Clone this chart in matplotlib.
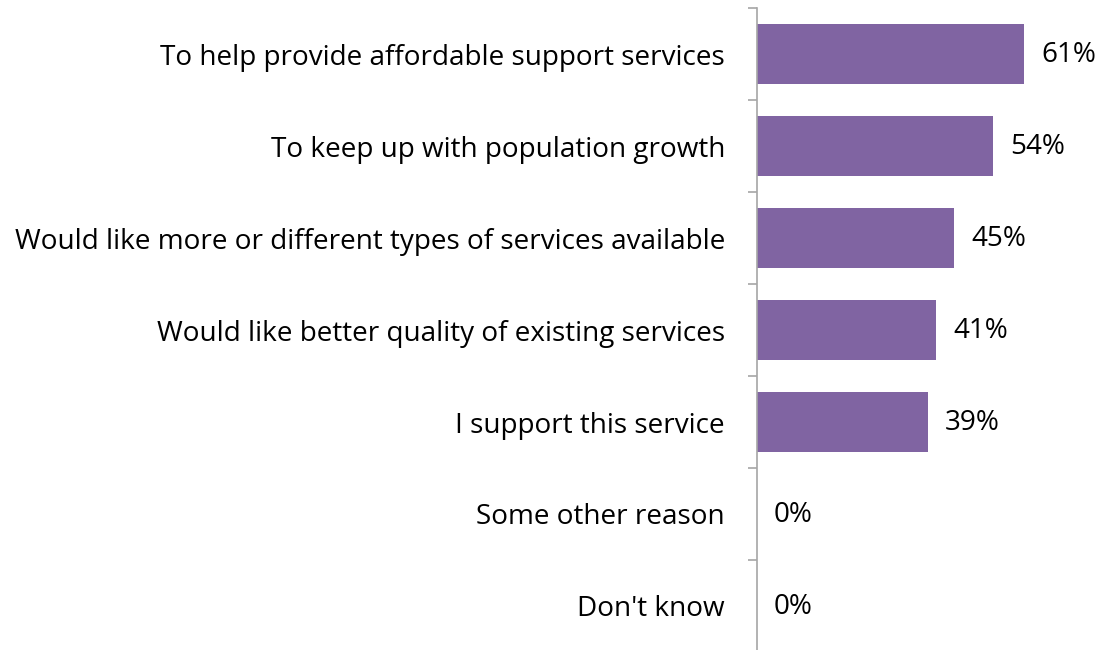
import matplotlib.pyplot as plt
from matplotlib.ticker import FixedLocator

# categories top to bottom and their shares (%)
categories = [
    "To help provide affordable support services",
    "To keep up with population growth",
    "Would like more or different types of services available",
    "Would like better quality of existing services",
    "I support this service",
    "Some other reason",
    "Don't know",
]
values = [61, 54, 45, 41, 39, 0, 0]
value_labels = ["61%", "54%", "45%", "41%", "39%", "0%", "0%"]

plt.rcParams['font.family'] = ['Open Sans', 'DejaVu Sans']

W, H = 1101, 650
fig = plt.figure(figsize=(W / 100, H / 100), dpi=100)
# axes from the axis line (x=757) to the right edge, category band 8..652 px
ax = fig.add_axes([757 / W, (H - 652) / H, (W - 757) / W, 644 / H])

px_per_unit = 267 / 61
ax.set_xlim(0, (W - 757) / px_per_unit)
n = len(categories)
ax.set_ylim(n - 0.5, -0.5)

pos = list(range(n))
ax.barh(pos, values, height=0.66, color='#8064A2')

fs = 20.1
for y, v, lab in zip(pos, values, value_labels):
    ax.annotate(lab, (v, y), xytext=(17, -1), textcoords='offset pixels',
                va='center', ha='left', fontsize=fs, color='black')

ax.set_yticks(pos)
ax.set_yticklabels(categories, fontsize=fs)
ax.tick_params(axis='y', which='major', length=0, pad=23)
ax.yaxis.set_minor_locator(FixedLocator([i - 0.5 for i in range(n + 1)]))
ax.tick_params(axis='y', which='minor', length=6.5, width=1.2, color='#A6A6A6')

ax.set_xticks([])
for s in ['top', 'right', 'bottom']:
    ax.spines[s].set_visible(False)
ax.spines['left'].set_color('#A6A6A6')
ax.spines['left'].set_linewidth(1.2)

fig.savefig('out.png', dpi=100)
